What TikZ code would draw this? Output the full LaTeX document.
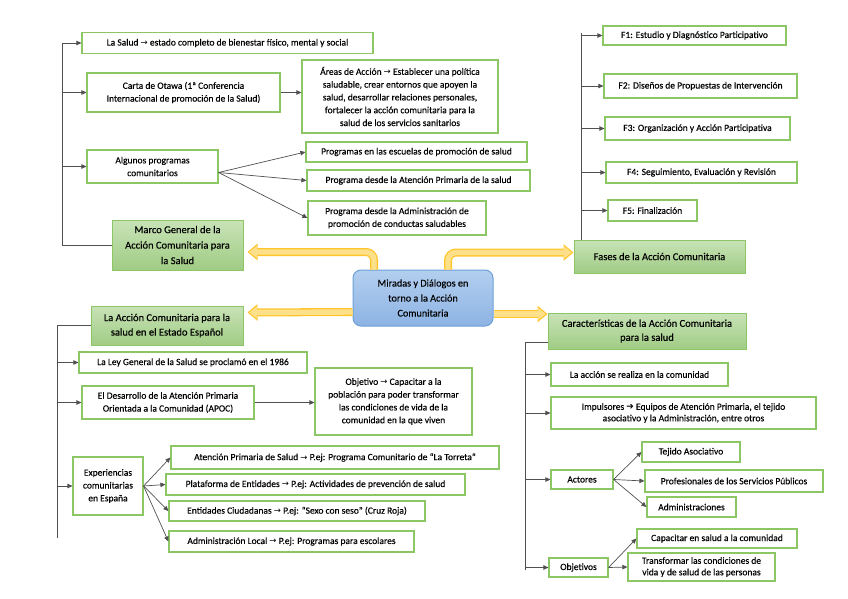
\documentclass[tikz,border=0pt]{standalone}
\usepackage{fontspec}
\setmainfont{Carlito}[UprightFeatures={FakeBold=0.25}]
\newfontfamily\simbolos{DejaVu Sans}
\usetikzlibrary{arrows.meta,calc}
\definecolor{verdeborde}{HTML}{8CC665}
\definecolor{verdeclaro}{HTML}{C8E3B7}
\definecolor{verdeoscuro}{HTML}{A0CC84}
\definecolor{azulborde}{HTML}{6C9FD8}
\definecolor{azulclaro}{HTML}{B3CFEF}
\definecolor{azuloscuro}{HTML}{8DB3E4}
\definecolor{amarilloborde}{HTML}{FFC52B}
\definecolor{amarillo}{HTML}{FFE08A}
\definecolor{linea}{HTML}{505050}
\newcommand{\flechita}{{\simbolos\fontsize{8.5}{8}\selectfont →}}
\newcommand{\flechagruesa}{{\simbolos\fontsize{9}{8}\selectfont ➔}}

\begin{document}
\begin{tikzpicture}[x=1pt, y=-1pt,
		caja/.style 2 args={minimum width=#1pt, minimum height=#2pt},
		hoja/.style={draw=verdeborde, line width=1.2pt, fill=white, align=center, inner sep=1pt,
			font=\fontsize{9.5}{12.8}\selectfont},
		tema/.style={draw=verdeborde, line width=1pt, top color=verdeclaro, bottom color=verdeoscuro,
			align=center, inner sep=1pt, font=\fontsize{10.5}{15.5}\selectfont},
		centro/.style={draw=azulborde, line width=1pt, rounded corners=8pt, top color=azulclaro,
			bottom color=azuloscuro, align=center, inner sep=1pt, font=\fontsize{10.2}{15}\selectfont},
		rama/.style={draw=linea, line width=0.7pt},
		flecha/.style={rama, -{Triangle[length=5pt,width=4.5pt]}},
		ancha/.style={line width=8pt, amarilloborde, rounded corners=8pt, -{Triangle[length=10pt,width=16pt]}},
		anchadentro/.style={line width=5.4pt, amarillo, rounded corners=8pt, shorten >=1.7pt,
			-{Triangle[length=8pt,width=12pt]}}]
	\useasboundingbox (0,0) rectangle (848,599);

	% marco general
	\node[tema, caja={131}{50}] (marco) at (177.5,245) {Marco General de la\\Acción Comunitaria para\\la Salud};
	\node[hoja, caja={291}{21}] (salud) at (227.5,43) {La Salud \flechita{} estado completo de bienestar físico, mental y social};
	\node[hoja, caja={193}{39}] (carta) at (183.5,92.5) {Carta de Otawa (1ª Conferencia\\Internacional de promoción de la Salud)};
	\node[hoja, caja={196}{73}] (areas) at (400,96.5) {Áreas de Acción \flechita{} Establecer una política\\saludable, crear entornos que apoyen la\\salud, desarrollar relaciones personales,\\fortalecer la acción comunitaria para la\\salud de los servicios sanitarios};
	\node[hoja, caja={131}{33}] (algunos) at (152.5,166.5) {Algunos programas\\comunitarios};
	\node[hoja, caja={221}{20}] (escuelas) at (416.5,152) {Programas en las escuelas de promoción de salud};
	\node[hoja, caja={223}{21}] (aprimaria) at (418.5,180.5) {Programa desde la Atención Primaria de la salud};
	\node[hoja, caja={178}{34}] (admin) at (397,218) {Programa desde la Administración de\\promoción de conductas saludables};

	% fases
	\node[tema, caja={171}{33}] (fases) at (659.5,256.5) {Fases de la Acción Comunitaria};
	\node[hoja, caja={183}{19}] (f1) at (694.5,35.5) {F1: Estudio y Diagnóstico Participativo};
	\node[hoja, caja={193}{24}] (f2) at (700.5,86) {F2: Diseños de Propuestas de Intervención};
	\node[hoja, caja={185}{23}] (f3) at (697.5,128.5) {F3: Organización y Acción Participativa};
	\node[hoja, caja={191}{21}] (f4) at (701.5,172.5) {F4: Seguimiento, Evaluación y Revisión};
	\node[hoja, caja={89}{21}] (f5) at (652.5,210.5) {F5: Finalización};

	% centro
	\node[centro, caja={140}{56}] (miradas) at (423,298) {Miradas y Diálogos en\\torno a la Acción\\Comunitaria};

	% estado espanol
	\node[tema, caja={152}{39}, font=\fontsize{10.5}{14.5}\selectfont] (accion) at (167,325.5) {La Acción Comunitaria para la\\salud en el Estado Español};
	\node[hoja, caja={228}{21}] (ley) at (193,362.5) {La Ley General de la Salud se proclamó en el 1986};
	\node[hoja, caja={172}{33}] (apoc) at (168,402.5) {El Desarrollo de la Atención Primaria\\Orientada a la Comunidad (APOC)};
	\node[hoja, caja={157}{67}] (objetivo) at (393.5,401.5) {Objetivo \flechita{} Capacitar a la\\población para poder transformar\\las condiciones de vida de la\\comunidad en la que viven};
	\node[hoja, caja={70}{58}] (experiencias) at (108,486) {Experiencias\\comunitarias\\en España};
	\node[hoja, caja={328}{23}] (eap) at (335,457.5) {Atención Primaria de Salud \flechita{} P.ej: Programa Comunitario de “La Torreta”};
	\node[hoja, caja={299}{21}] (plataforma) at (315.5,484.5) {Plataforma de Entidades \flechita{} P.ej: Actividades de prevención de salud};
	\node[hoja, caja={256}{20}] (ciudadanas) at (297,511) {Entidades Ciudadanas \flechita{} P.ej: “Sexo con seso” (Cruz Roja)};
	\node[hoja, caja={245}{21}] (local) at (291.5,541.5) {Administración Local \flechita{} P.ej: Programas para escolares};

	% caracteristicas
	\node[tema, caja={198}{36}, font=\fontsize{10.5}{14}\selectfont] (carac) at (647,331) {Características de la Acción Comunitaria\\para la salud};
	\node[hoja, caja={177}{23}] (realiza) at (639.5,374.5) {La acción se realiza en la comunidad};
	\node[hoja, caja={265}{32}, font=\fontsize{9.5}{11.5}\selectfont] (impulsores) at (683.5,413) {Impulsores \flechagruesa{} Equipos de Atención Primaria, el tejido\\asociativo y la Administración, entre otros};
	\node[hoja, caja={62}{19}] (actores) at (582,479.5) {Actores};
	\node[hoja, caja={98}{20}] (tejido) at (691,452) {Tejido Asociativo};
	\node[hoja, caja={178}{22}] (profesionales) at (734,481) {Profesionales de los Servicios Públicos};
	\node[hoja, caja={89}{20}] (administraciones) at (691.5,507) {Administraciones};
	\node[hoja, caja={59}{19}] (objetivos) at (578.5,567.5) {Objetivos};
	\node[hoja, caja={160}{19}] (capacitar) at (717,538.5) {Capacitar en salud a la comunidad};
	\node[hoja, caja={147}{28}, font=\fontsize{9.5}{11.5}\selectfont] (transformar) at (701.5,567) {Transformar las condiciones de\\vida y de salud de las personas};

	% troncos
	\coordinate (mtop) at (62,43);
	\coordinate (ftop) at (581,33);
	\coordinate (abot) at (57,538);
	\coordinate (cbot) at (525,570);
	\draw[rama] (marco.west) -| (mtop);
	\draw[rama] (ftop) -- (ftop |- fases.north);
	\draw[rama] (accion.west) -| (abot);
	\draw[rama] ([yshift=-11pt]carac.west) -| (cbot);
	\foreach \n in {salud,carta,algunos}
		\draw[flecha] (mtop |- \n.west) -- (\n.west);
	\foreach \n in {f1,f2,f3,f4,f5}
		\draw[flecha] (ftop |- \n.west) -- (\n.west);
	\foreach \n in {ley,apoc,experiencias}
		\draw[flecha] (abot |- \n.west) -- (\n.west);
	\foreach \n in {realiza,impulsores,actores,objetivos}
		\draw[flecha] (cbot |- \n.west) -- (\n.west);

	% ramas
	\draw[flecha] (carta.east) -- (carta.east -| areas.west);
	\draw[flecha] (apoc.east) -- (apoc.east -| objetivo.west);
	\foreach \n in {escuelas,aprimaria,admin}
		\draw[flecha] ([yshift=-6pt]algunos.east) -- (\n.west);
	\foreach \n in {eap,plataforma,ciudadanas,local}
		\draw[flecha] (experiencias.east) -- (\n.west);
	\foreach \n in {tejido,profesionales,administraciones}
		\draw[flecha] (actores.east) -- (\n.west);
	\foreach \n in {capacitar,transformar}
		\draw[flecha] (objetivos.east) -- (\n.west);

	% flechas amarillas
	\coordinate (sal1) at ([xshift=-49pt]miradas.north);
	\coordinate (sal2) at ([xshift=25pt]miradas.north);
	\coordinate (sal3) at ([yshift=-14pt]miradas.west);
	\coordinate (sal4) at ([yshift=-16pt]miradas.east);
	\coordinate (lle1) at ([xshift=4pt,yshift=-7pt]marco.east);
	\coordinate (lle2) at ([yshift=4pt]fases.west);
	\coordinate (lle3) at ([xshift=4pt,yshift=13pt]accion.east);
	\coordinate (lle4) at ([yshift=17pt]carac.west);
	\foreach \est in {ancha,anchadentro} {
		\draw[\est] (sal1) |- (lle1);
		\draw[\est] (sal2) |- (lle2);
		\draw[\est] (sal3) -- (lle3);
		\draw[\est] (sal4) -- (lle4);
	}
\end{tikzpicture}
\end{document}
